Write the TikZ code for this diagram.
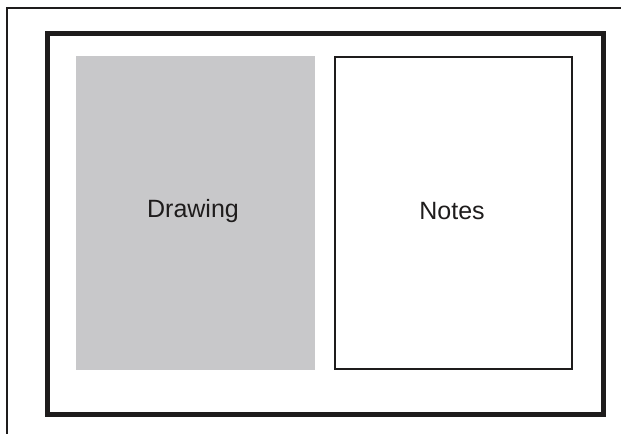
\documentclass[tikz,border=0pt]{standalone}
\usepackage{fontspec}
\setmainfont{Liberation Sans}
\definecolor{panelgray}{RGB}{200,200,202}
\definecolor{ink}{RGB}{30,28,28}
\begin{document}
\begin{tikzpicture}[x=1pt,y=-1pt,
  thinframe/.style={draw=ink,line width=2pt},
  thickframe/.style={draw=ink,line width=5pt},
  panel/.style={line width=1.8pt},
  lbl/.style={font=\fontsize{25}{30}\selectfont,text=ink}]
\useasboundingbox (0,0) rectangle (621,434);
\coordinate (tl) at (7,7.5);
\coordinate (tr) at (621,7.5);
\coordinate (bl) at (7,434);
\draw[thinframe] (tr) -- (tl) -- (bl);
\node[thickframe,minimum width=556pt,minimum height=381pt,inner sep=0pt] (sheet) at (325,223.5) {};
\node[fill=panelgray,minimum width=239pt,minimum height=314pt,inner sep=0pt] (drawing) at (195.5,213) {};
\node[panel,draw=ink,minimum width=237pt,minimum height=312pt,inner sep=0pt] (notes) at (453.5,213) {};
\node[lbl] (dlbl) at (193,211) {Drawing};
\node[lbl] (nlbl) at (452,211) {Notes};
\end{tikzpicture}
\end{document}
